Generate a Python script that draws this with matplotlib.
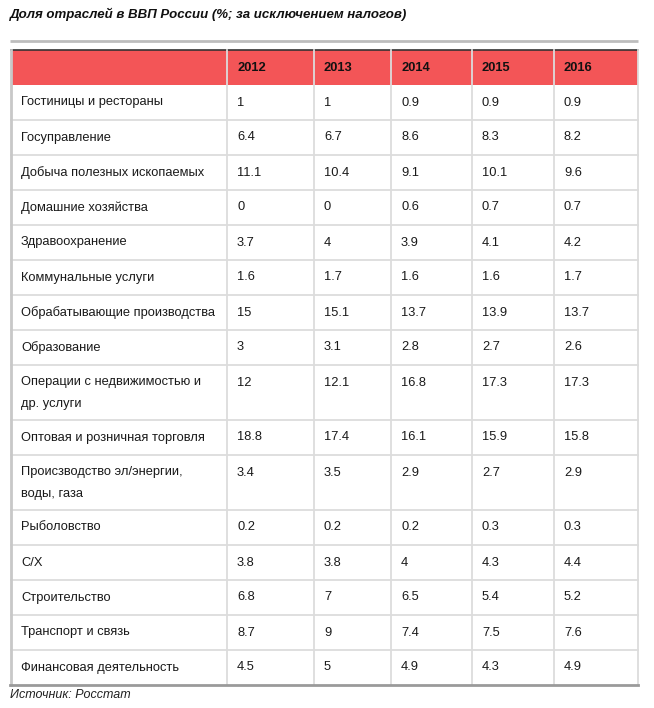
import matplotlib.pyplot as plt
from matplotlib.patches import Rectangle

plt.rcParams["font.family"] = ["Liberation Sans", "DejaVu Sans"]

TITLE = "Доля отраслей в ВВП России (%; за исключением налогов)"
SOURCE = "Источник: Росстат"
YEARS = ["2012", "2013", "2014", "2015", "2016"]
CATEGORIES = [
    "Гостиницы и рестораны",
    "Госуправление",
    "Добыча полезных ископаемых",
    "Домашние хозяйства",
    "Здравоохранение",
    "Коммунальные услуги",
    "Обрабатывающие производства",
    "Образование",
    "Операции с недвижимостью и\nдр. услуги",
    "Оптовая и розничная торговля",
    "Происзводство эл/энергии,\nводы, газа",
    "Рыболовство",
    "С/Х",
    "Строительство",
    "Транспорт и связь",
    "Финансовая деятельность",
]
V2012 = [1, 6.4, 11.1, 0, 3.7, 1.6, 15, 3, 12, 18.8, 3.4, 0.2, 3.8, 6.8, 8.7, 4.5]
V2013 = [1, 6.7, 10.4, 0, 4, 1.7, 15.1, 3.1, 12.1, 17.4, 3.5, 0.2, 3.8, 7, 9, 5]
V2014 = [0.9, 8.6, 9.1, 0.6, 3.9, 1.6, 13.7, 2.8, 16.8, 16.1, 2.9, 0.2, 4, 6.5, 7.4, 4.9]
V2015 = [0.9, 8.3, 10.1, 0.7, 4.1, 1.6, 13.9, 2.7, 17.3, 15.9, 2.7, 0.3, 4.3, 5.4, 7.5, 4.3]
V2016 = [0.9, 8.2, 9.6, 0.7, 4.2, 1.7, 13.7, 2.6, 17.3, 15.8, 2.9, 0.3, 4.4, 5.2, 7.6, 4.9]
VALUES = [V2012, V2013, V2014, V2015, V2016]

HEADER_RED = "#f35557"
GRID = "#dcdcdc"
FS = 9.3

fig = plt.figure(figsize=(6.54, 7.08), dpi=100)
ax = fig.add_axes([0, 0, 1, 1])
ax.set_xlim(0, 654)
ax.set_ylim(708, 0)
ax.axis("off")

# column edges (pixels)
col_x = [11, 227, 314, 391, 472, 554, 638]
left, right = col_x[0], col_x[-1]

ax.text(10, 14, TITLE, fontsize=9.5, fontweight="bold", fontstyle="italic",
        ha="left", va="center", color="#111111")
ax.plot([10, right], [41, 41], color="#bdbdbd", lw=2, solid_capstyle="butt")

# header
top = 50
head_h = 35
ax.add_patch(Rectangle((left, top), right - left, head_h, facecolor=HEADER_RED,
                       edgecolor="none"))
ax.plot([left, right], [top, top], color="#333333", lw=1.2)
for i, year in enumerate(YEARS):
    ax.text(col_x[i + 1] + 10, top + head_h / 2 + 0.5, year, fontsize=FS,
            fontweight="bold", ha="left", va="center", color="#111111")

# body rows
y = top + head_h
line_gap = 22
for r, cat in enumerate(CATEGORIES):
    lines = cat.split("\n")
    h = 35 if len(lines) == 1 else 55
    for k, line in enumerate(lines):
        ax.text(left + 10, y + 17.5 + k * line_gap, line, fontsize=FS,
                ha="left", va="center", color="#1a1a1a")
    for i, vals in enumerate(VALUES):
        ax.text(col_x[i + 1] + 10, y + 17.5, f"{vals[r]:g}", fontsize=FS,
                ha="left", va="center", color="#1a1a1a")
    y += h
    if r < len(CATEGORIES) - 1:
        ax.plot([left, right], [y, y], color=GRID, lw=1.3)
bottom = y

# vertical lines
for x in col_x[1:-1]:
    ax.plot([x, x], [top, bottom], color=GRID, lw=1.3)
ax.plot([left, left], [top, bottom], color="#c8c8c8", lw=2)
ax.plot([right, right], [top, bottom], color=GRID, lw=1.3)
ax.plot([left - 1, right], [bottom, bottom], color="#9a9a9a", lw=2)

ax.text(10, bottom + 10, SOURCE, fontsize=9, fontstyle="italic",
        ha="left", va="center", color="#222222")

fig.savefig("out.png", dpi=100, facecolor="white")
